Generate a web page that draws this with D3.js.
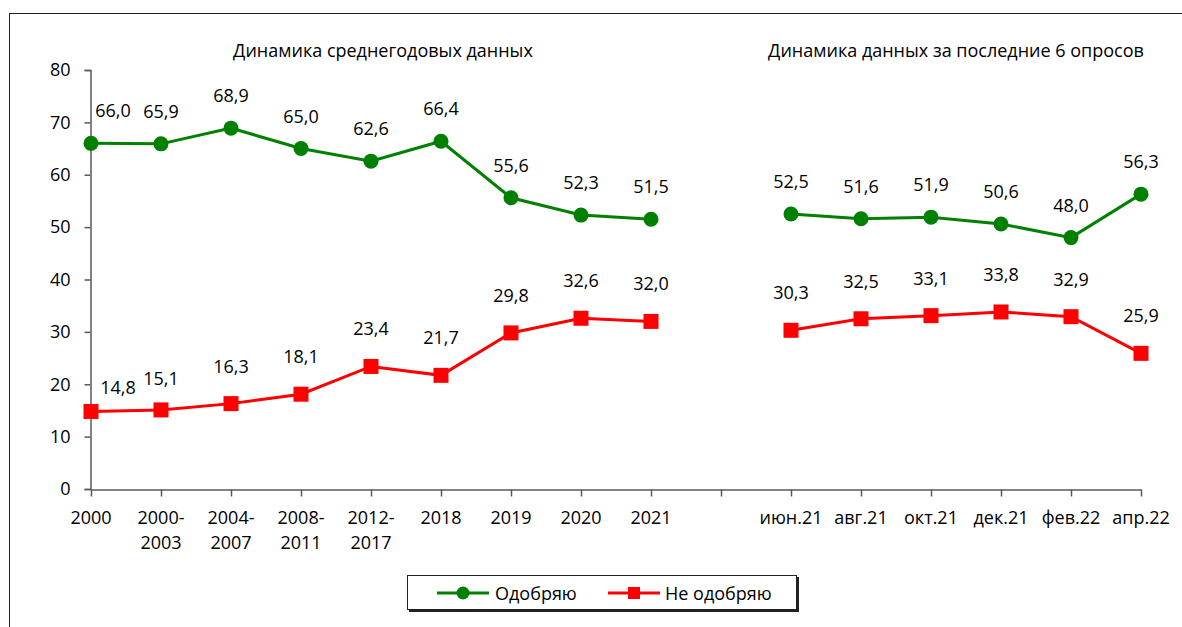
<!DOCTYPE html>
<head>
  <meta charset="utf-8">
  <script src="https://cdnjs.cloudflare.com/ajax/libs/d3/7.8.5/d3.min.js"></script>
  <style>
    body { margin:0; background:#fff; }
    svg { display:block; font-family:"Open Sans", sans-serif; }
  </style>
</head>
<body>
  <script>
    // categories (the empty one is the gap between the two blocks)
    var categories = [["2000"], ["2000-", "2003"], ["2004-", "2007"], ["2008-", "2011"], ["2012-", "2017"],
      ["2018"], ["2019"], ["2020"], ["2021"], [""],
      ["июн.21"], ["авг.21"], ["окт.21"], ["дек.21"], ["фев.22"], ["апр.22"]];
    var approve = [66.0, 65.9, 68.9, 65.0, 62.6, 66.4, 55.6, 52.3, 51.5, null,
      52.5, 51.6, 51.9, 50.6, 48.0, 56.3];
    var disapprove = [14.8, 15.1, 16.3, 18.1, 23.4, 21.7, 29.8, 32.6, 32.0, null,
      30.3, 32.5, 33.1, 33.8, 32.9, 25.9];
    var yTicks = [0, 10, 20, 30, 40, 50, 60, 70, 80];
    var titles = ["Динамика среднегодовых данных", "Динамика данных за последние 6 опросов"];
    var seriesNames = ["Одобряю", "Не одобряю"];

    var width = 1182, height = 627;
    var fs = 18;
    var svg = d3.select("body").append("svg").attr("width", width).attr("height", height);

    // outer frame
    svg.append("rect").attr("x", 9.5).attr("y", 13.5).attr("width", 1300).attr("height", 700)
      .attr("fill", "none").attr("stroke", "#222").attr("stroke-width", 1);

    var x = d3.scalePoint().domain(d3.range(categories.length)).range([91, 1141]);
    var y = d3.scaleLinear().domain([0, 80]).range([489, 70]);

    // y axis
    var yAxis = svg.append("g").attr("transform", "translate(90.5,0)")
      .call(d3.axisLeft(y).tickValues(yTicks).tickSize(6).tickPadding(14));
    yAxis.select(".domain").attr("stroke", "#595959").attr("stroke-width", 1.5);
    yAxis.selectAll(".tick line").attr("stroke", "#595959").attr("stroke-width", 1.5);
    yAxis.selectAll("text").attr("font-size", fs).attr("fill", "#000")
      .attr("font-family", "Open Sans, sans-serif");

    // x axis
    var xAxis = svg.append("g").attr("transform", "translate(0,489.5)")
      .call(d3.axisBottom(x).tickSize(7).tickSizeOuter(0).tickFormat(""));
    xAxis.select(".domain").attr("stroke", "#595959").attr("stroke-width", 1.5);
    xAxis.selectAll(".tick line").attr("stroke", "#595959").attr("stroke-width", 1.5);

    categories.forEach(function (lines, i) {
      lines.forEach(function (t, j) {
        svg.append("text").attr("x", x(i)).attr("y", 524 + j * 25)
          .attr("text-anchor", "middle").attr("font-size", fs).attr("fill", "#000").text(t);
      });
    });

    // titles
    svg.append("text").attr("x", 383).attr("y", 57).attr("text-anchor", "middle")
      .attr("font-size", fs).text(titles[0]);
    svg.append("text").attr("x", 956).attr("y", 57).attr("text-anchor", "middle")
      .attr("font-size", fs).text(titles[1]);

    var line = d3.line().defined(function (d) { return d != null; })
      .x(function (d, i) { return x(i); }).y(function (d) { return y(d); });
    var fmt = function (v) { return v.toFixed(1).replace(".", ","); };

    function drawSeries(data, color, shape, labelDy) {
      svg.append("path").datum(data).attr("d", line).attr("fill", "none")
        .attr("stroke", color).attr("stroke-width", 3);
      data.forEach(function (v, i) {
        if (v == null) return;
        if (shape == "circle") {
          svg.append("circle").attr("cx", x(i)).attr("cy", y(v)).attr("r", 7.5).attr("fill", color);
        } else {
          svg.append("rect").attr("x", x(i) - 7.5).attr("y", y(v) - 7.5).attr("width", 15).attr("height", 15)
            .attr("fill", color);
        }
      });
      return svg.selectAll(null).data(data.map(function (v, i) { return { v: v, i: i }; })
          .filter(function (d) { return d.v != null; }))
        .enter().append("text")
        .attr("x", function (d) { return x(d.i); })
        .attr("y", function (d) { return y(d.v) - labelDy; })
        .attr("text-anchor", "middle").attr("font-size", fs).attr("fill", "#000")
        .text(function (d) { return fmt(d.v); });
    }

    var gLabels = drawSeries(approve, "#008000", "circle", 26);
    var rLabels = drawSeries(disapprove, "#ff0000", "square", 31);
    // labels that would sit on the axis or collide are nudged
    gLabels.filter(function (d) { return d.i == 0; }).attr("dx", 22);
    rLabels.filter(function (d) { return d.i == 0; }).attr("dx", 27).attr("dy", 14);
    rLabels.filter(function (d) { return d.i == 1; }).attr("dy", 6);

    // legend
    var lg = svg.append("g");
    lg.append("rect").attr("x", 409).attr("y", 577).attr("width", 390).attr("height", 35).attr("fill", "#222");
    lg.append("rect").attr("x", 407.5).attr("y", 575.5).attr("width", 389).attr("height", 34)
      .attr("fill", "#fff").attr("stroke", "#222");
    lg.append("line").attr("x1", 437).attr("x2", 489).attr("y1", 593).attr("y2", 593)
      .attr("stroke", "#008000").attr("stroke-width", 3);
    lg.append("circle").attr("cx", 463).attr("cy", 593).attr("r", 6.5).attr("fill", "#008000");
    lg.append("text").attr("x", 495).attr("y", 599.5).attr("font-size", fs).text(seriesNames[0]);
    lg.append("line").attr("x1", 608).attr("x2", 660).attr("y1", 593).attr("y2", 593)
      .attr("stroke", "#ff0000").attr("stroke-width", 3);
    lg.append("rect").attr("x", 628).attr("y", 587).attr("width", 12).attr("height", 12).attr("fill", "#ff0000");
    lg.append("text").attr("x", 665).attr("y", 599.5).attr("font-size", fs).text(seriesNames[1]);
  </script>
</body>
</html>
